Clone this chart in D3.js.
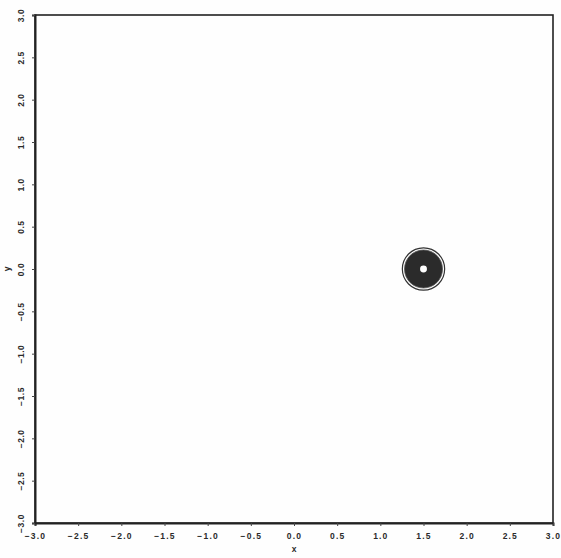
<!DOCTYPE html>
<html>
<head>
<meta charset="utf-8">
<script src="https://cdn.jsdelivr.net/npm/d3@7"></script>
<style>
  html, body { margin: 0; padding: 0; background: #fefefe; }
  svg { display: block; }
  .tick text { font-family: "Liberation Sans", Arial, sans-serif; font-weight: bold; font-size: 8.5px; fill: #2a2a2a; }
  .xaxis .tick text { letter-spacing: 1.2px; }
  .yaxis .tick text { letter-spacing: 0.5px; }
</style>
</head>
<body>
<svg id="chart" width="561" height="558"></svg>
<script>
// Axis tick values
const xTicks = [-3.0, -2.5, -2.0, -1.5, -1.0, -0.5, 0.0, 0.5, 1.0, 1.5, 2.0, 2.5, 3.0];
const yTicks = [-3.0, -2.5, -2.0, -1.5, -1.0, -0.5, 0.0, 0.5, 1.0, 1.5, 2.0, 2.5, 3.0];

// Contour rings around the single peak (centre and radii in data units)
const peakX = [1.5];
const peakY = [0.0];
const ringRadius = [0.245, 0.22, 0.04];
const ringFill   = ["none", "#2b2b2b", "#ffffff"];
const ringStroke = ["#333333", "#555555", "none"];

const svg = d3.select("#chart");
const margin = { left: 35, right: 8, top: 15, bottom: 35 };
const W = 561, H = 558;

const x = d3.scaleLinear().domain([-3, 3]).range([margin.left, W - margin.right]);
const y = d3.scaleLinear().domain([-3, 3]).range([H - margin.bottom, margin.top]);

const fmt = d3.format(".1f");

// Plot frame
svg.append("rect")
  .attr("x", x(-3)).attr("y", y(3))
  .attr("width", x(3) - x(-3)).attr("height", y(-3) - y(3))
  .attr("fill", "#fefefe").attr("stroke", "#222").attr("stroke-width", 1.6);

// Bottom axis
const gx = svg.append("g").attr("class", "xaxis")
  .attr("transform", `translate(0,${y(-3)})`)
  .call(d3.axisBottom(x).tickValues(xTicks).tickFormat(fmt).tickSize(3).tickPadding(7));
gx.select(".domain").attr("stroke", "#222").attr("stroke-width", 2);
gx.selectAll(".tick line").attr("stroke", "#444");

// Left axis, labels turned to read upward
const gy = svg.append("g").attr("class", "yaxis")
  .attr("transform", `translate(${x(-3)},0)`)
  .call(d3.axisLeft(y).tickValues(yTicks).tickFormat(fmt).tickSize(3).tickPadding(0));
gy.select(".domain").attr("stroke", "#222").attr("stroke-width", 2);
gy.selectAll(".tick line").attr("stroke", "#444");
gy.selectAll(".tick text")
  .attr("text-anchor", "middle")
  .attr("x", 0).attr("dy", 0)
  .attr("transform", "translate(-13,0) rotate(-90)")
  .attr("dominant-baseline", "middle");

// Axis titles
svg.append("text")
  .attr("x", (x(-3) + x(3)) / 2).attr("y", H - 6)
  .attr("text-anchor", "middle")
  .style("font-family", "Liberation Sans, Arial, sans-serif")
  .style("font-weight", "bold").style("font-size", "8.5px").attr("fill", "#2a2a2a")
  .text("x");
svg.append("text")
  .attr("transform", `translate(8,${y(0)}) rotate(-90)`)
  .attr("text-anchor", "middle").attr("dominant-baseline", "middle")
  .style("font-family", "Liberation Sans, Arial, sans-serif")
  .style("font-weight", "bold").style("font-size", "8.5px").attr("fill", "#2a2a2a")
  .text("y");

// Contour rings
const rpx = r => x(r) - x(0);
svg.append("g").selectAll("circle")
  .data(ringRadius)
  .join("circle")
  .attr("cx", x(peakX[0])).attr("cy", y(peakY[0]))
  .attr("r", d => rpx(d))
  .attr("fill", (d, i) => ringFill[i])
  .attr("stroke", (d, i) => ringStroke[i])
  .attr("stroke-width", (d, i) => i === 0 ? 1.2 : 0.8);
</script>
</body>
</html>
